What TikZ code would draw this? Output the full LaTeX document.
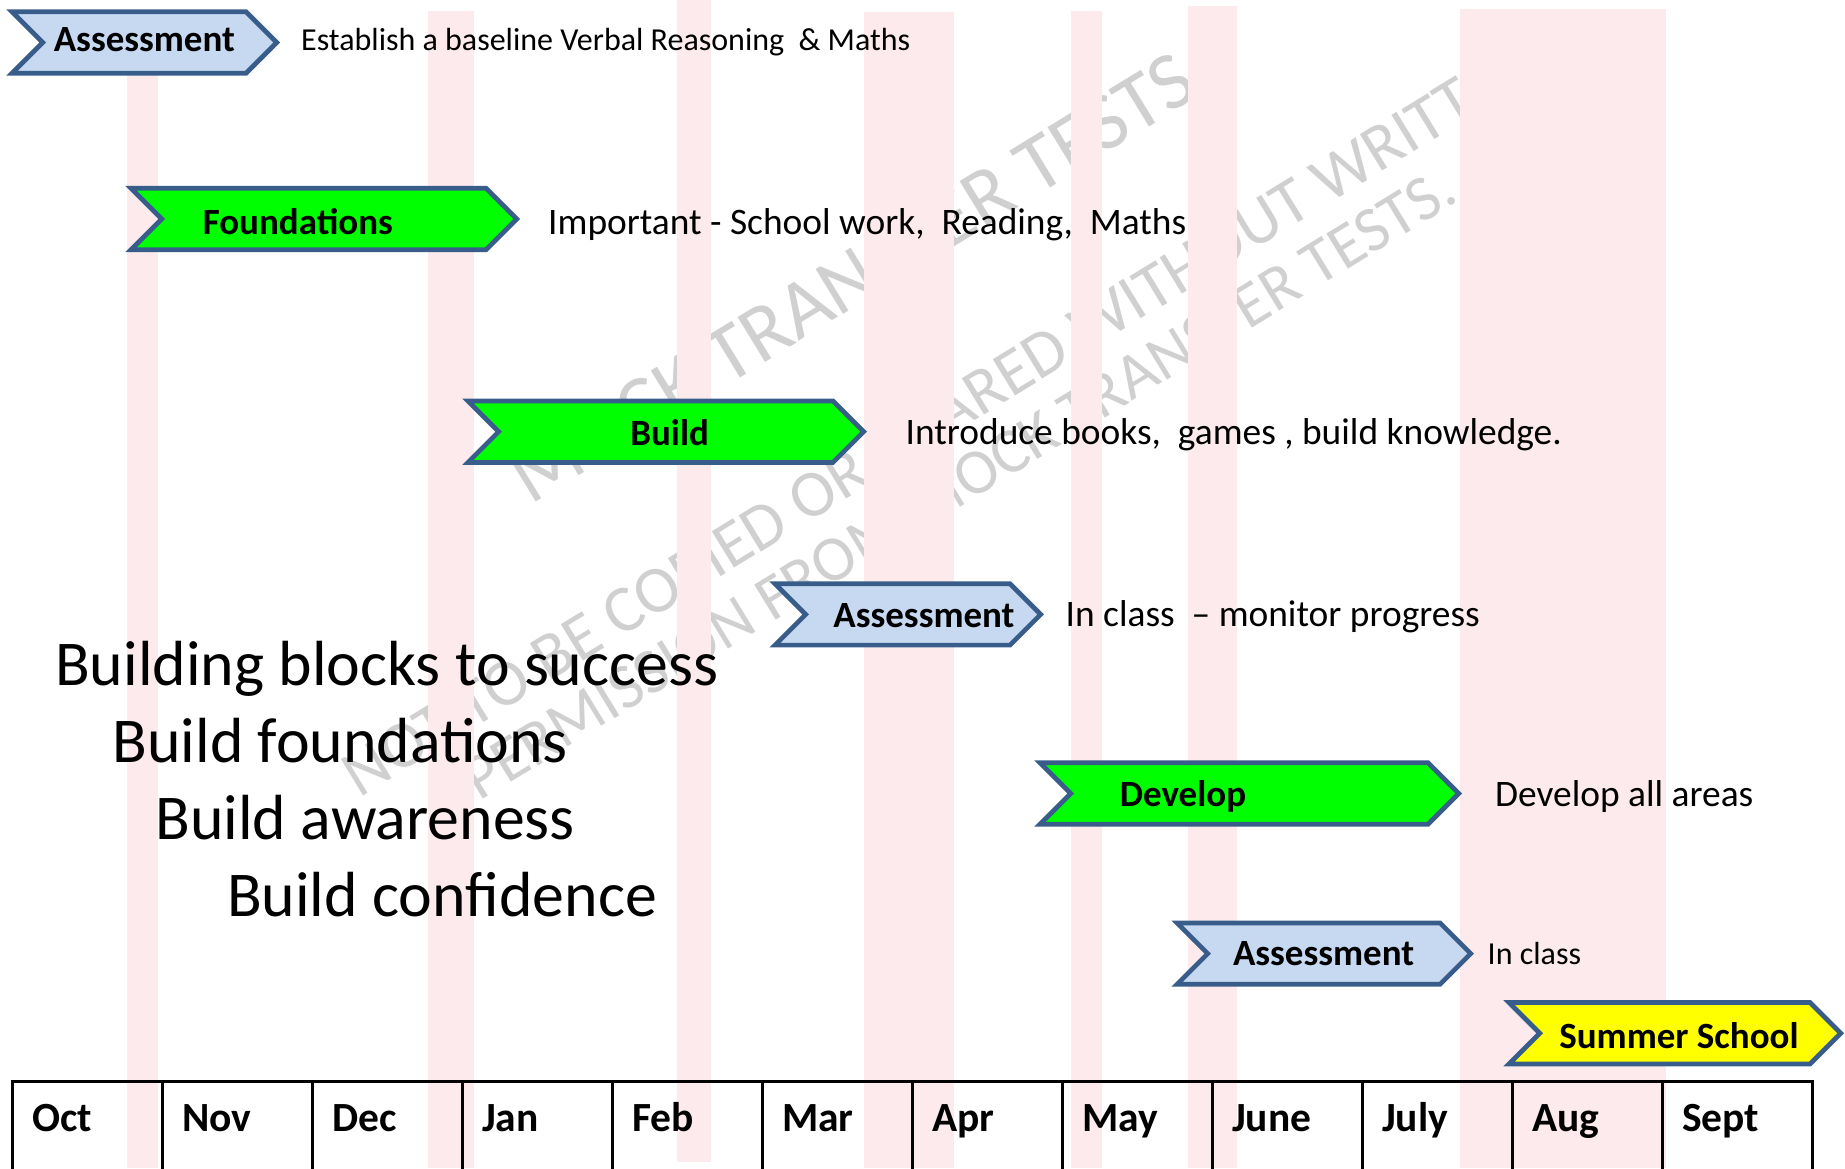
\documentclass[tikz,border=0pt]{standalone}
\usepackage{fontspec}
\setmainfont{Carlito}
\usepackage{tikz}
\usetikzlibrary{calc}
\definecolor{bandpink}{RGB}{253,234,236}
\definecolor{edgeblue}{RGB}{56,93,138}
\definecolor{paleblue}{RGB}{198,217,241}
\definecolor{brightgreen}{RGB}{0,255,0}
\definecolor{brightyellow}{RGB}{255,255,0}
\definecolor{wmgray}{RGB}{208,208,208}

\begin{document}
\begin{tikzpicture}[x=1pt, y=-1pt,
    chev/.style={draw=edgeblue, line width=4.7pt, line join=miter},
    chevtext/.style={font=\bfseries\fontsize{37}{44}\selectfont, anchor=base, inner sep=0pt},
    desc/.style={font=\fontsize{37.4}{44}\selectfont, anchor=base west, inner sep=0pt},
    smalldesc/.style={desc, font=\fontsize{32}{38}\selectfont},
    motto/.style={font=\fontsize{63.8}{75}\selectfont, anchor=base west, inner sep=0pt},
    month/.style={font=\bfseries\fontsize{41.5}{50}\selectfont, anchor=base west, inner sep=0pt},
    wmark/.style={text=wmgray, rotate=31.5, anchor=base, inner sep=0pt}]

    % page
    \useasboundingbox (0,0) rectangle (1845,1168);
    \clip (0,0) rectangle (1845,1168);

    % watermark
    \node[wmark, font=\fontsize{82}{98}\selectfont] (wmA) at (866,300.5) {MOCK TRANSFER TESTS};
    \node[wmark, font=\fontsize{66.4}{80}\selectfont] (wmB) at (951.5,435.4) {NOT TO BE COPIED OR SHARED WITHOUT WRITTEN};
    \node[wmark, font=\fontsize{64.2}{77}\selectfont] (wmC) at (970,501) {PERMISSION FROM MOCK TRANSFER TESTS.};

    % pink bands
    \foreach \a/\b/\t/\e in {127/158/10/1168, 428/474/11/1168, 677/711/0/1162, 864/954/12/1168,
                             1071/1102/11/1168, 1188/1237/5.5/1168, 1460/1666/8.5/1168}
      \fill[bandpink] (\a,\t) rectangle (\b,\e);

    % month table
    \draw[line width=3pt] (12,1081) rectangle (1812,1260);
    \foreach \m [count=\i from 0] in {Oct,Nov,Dec,Jan,Feb,Mar,Apr,May,June,July,Aug,Sept}
    {
      \draw[line width=3pt] (12+150*\i,1081) -- (12+150*\i,1260);
      \node[month] (m\i) at (32+150*\i,1131) {\m};
    }

    % chevrons
    \foreach \l/\f/\y/\col/\nm/\txt/\tx/\ty in {
        12/246/42.5/paleblue/asmtA/Assessment/144.4/51,
        131/486/219/brightgreen/found/Foundations/297.8/234,
        468/833/431.7/brightgreen/build/Build/669.6/445,
        775/1010/614.4/paleblue/asmtB/Assessment/924/627.5,
        1040/1428/793.5/brightgreen/devel/Develop/1183/806,
        1177/1440/953.6/paleblue/asmtC/Assessment/1323.6/965,
        1509/1810/1033.2/brightyellow/summer/Summer School/1679/1048}
    {
      \draw[chev, fill=\col] (\l,\y-30.7) -- (\f,\y-30.7) -- (\f+30.7,\y) -- (\f,\y+30.7)
          -- (\l,\y+30.7) -- (\l+30.7,\y) -- cycle;
      \node[chevtext] (\nm) at (\tx,\ty) {\txt};
    }

    % descriptions
    \node[smalldesc] (dA) at (301,50.5) {Establish a baseline Verbal Reasoning\ \ \& Maths};
    \node[desc] (dB) at (548,234) {Important - School work,\ \ Reading,\ \ Maths};
    \node[desc] (dC) at (905.5,444) {Introduce books,\ \ games , build knowledge.};
    \node[desc] (dD) at (1065.5,626) {In class\ \ – monitor progress};
    \node[desc] (dE) at (1495,806.5) {Develop all areas};
    \node[smalldesc] (dF) at (1487.5,964) {In class};

    % motto
    \node[motto] (tA) at (55,685.8) {Building blocks to success};
    \node[motto] (tB) at (112.4,762.2) {Build foundations};
    \node[motto] (tC) at (155.3,839) {Build awareness};
    \node[motto] (tD) at (226.9,916.1) {Build confidence};

\end{tikzpicture}
\end{document}
